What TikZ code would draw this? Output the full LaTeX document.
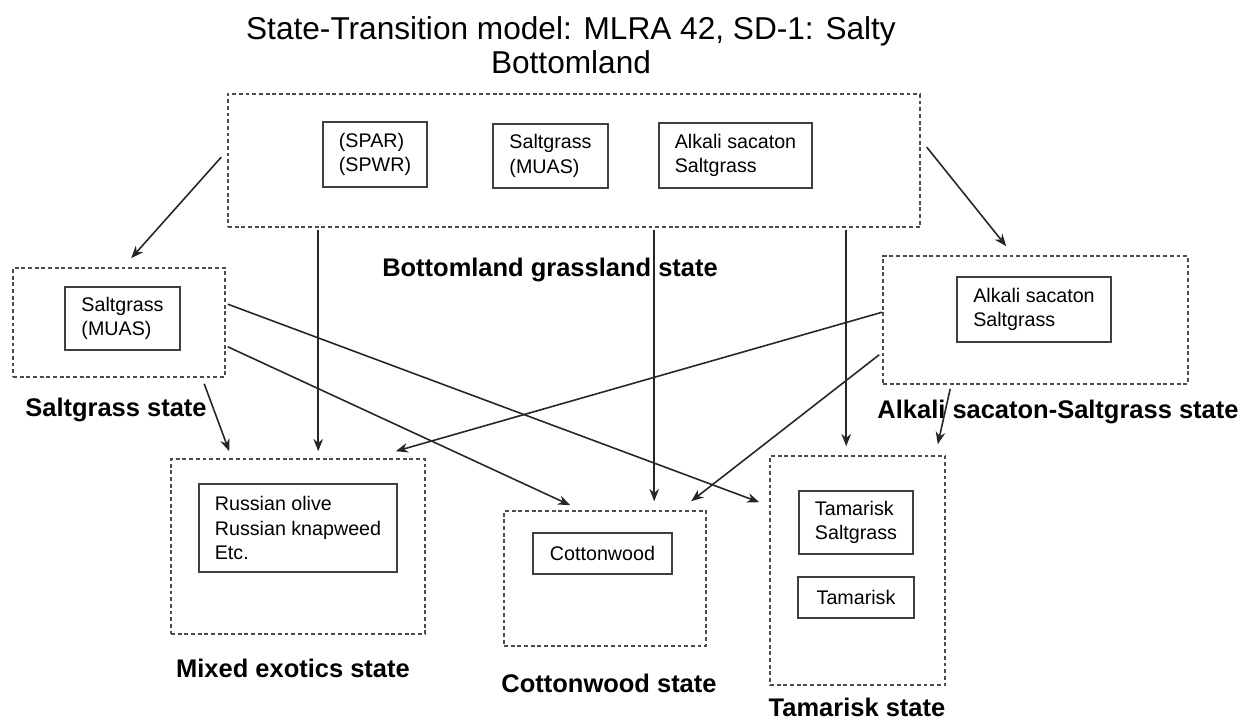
\documentclass[tikz,border=0pt]{standalone}
\usepackage{fontspec}
\setmainfont{Liberation Sans}
\usetikzlibrary{arrows.meta,fit,calc}
\tikzset{
 outerbox/.style={draw=black!70, line width=0.9pt, dash pattern=on 2.2pt off 1.6pt, inner sep=0pt},
 innerbox/.style={draw=black!75, line width=1pt, align=left, font=\fontsize{11.2}{14}\selectfont, inner sep=2pt},
 statelabel/.style={font=\bfseries\fontsize{14.5}{17}\selectfont, inner sep=0pt},
 arr/.style={draw=black!85, line width=0.9pt, -{Stealth[length=7pt,width=5.5pt]}},
}
\begin{document}
\begin{tikzpicture}[x=0.02cm,y=-0.02cm]
\useasboundingbox (0,0) rectangle (1251,722);
% title
\node[align=center, font=\fontsize{18}{19.5}\selectfont] (title) at (571,45) {State-Transition model: MLRA 42, SD-1: Salty\\Bottomland};
% outer state boxes
\node[outerbox, fit={(228,94) (920,227)}] (top) {};
\node[outerbox, fit={(13,268) (225,377)}] (sg) {};
\node[outerbox, fit={(883,256) (1188,384)}] (as) {};
\node[outerbox, fit={(171,459) (425,634)}] (mx) {};
\node[outerbox, fit={(504,511) (706,646)}] (cw) {};
\node[outerbox, fit={(770,456) (945,685)}] (tm) {};
% inner boxes
\node[innerbox, minimum width=2.08cm, minimum height=1.30cm] (t1) at (375,154.5) {(SPAR)\\(SPWR)};
\node[innerbox, minimum width=2.30cm, minimum height=1.28cm] (t2) at (550.5,156) {Saltgrass\\(MUAS)};
\node[innerbox, minimum width=3.06cm, minimum height=1.30cm] (t3) at (735.5,155.5) {Alkali sacaton\\Saltgrass};
\node[innerbox, minimum width=2.30cm, minimum height=1.26cm] (sgi) at (122.5,318.5) {Saltgrass\\(MUAS)};
\node[innerbox, minimum width=3.08cm, minimum height=1.30cm] (asi) at (1034,309.5) {Alkali sacaton\\Saltgrass};
\node[innerbox, minimum width=3.96cm, minimum height=1.76cm] (mxi) at (298,528) {Russian olive\\Russian knapweed\\Etc.};
\node[innerbox, minimum width=2.78cm, minimum height=0.82cm] (cwi) at (602.5,553.5) {Cottonwood};
\node[innerbox, minimum width=2.28cm, minimum height=1.26cm] (tm1) at (856,522.5) {Tamarisk\\Saltgrass};
\node[innerbox, minimum width=2.32cm, minimum height=0.82cm] (tm2) at (856,597.5) {Tamarisk};
% state labels
\node[statelabel] (lbtop) at (550,270) {Bottomland grassland state};
\node[statelabel] (lbsg) at (116,410) {Saltgrass state};
\node[statelabel] (lbas) at (1058,412) {Alkali sacaton-Saltgrass state};
\node[statelabel] (lbmx) at (293,668) {Mixed exotics state};
\node[statelabel] (lbcw) at (609,683) {Cottonwood state};
\node[statelabel] (lbtm) at (857,707) {Tamarisk state};
% transitions
\draw[arr] ($(top.north west)+(-6,64)$) -- ($(sg.north west)+(119,-9)$);
\draw[arr] ($(top.north east)+(6,54)$) -- ($(as.north west)+(124,-9)$);
\draw[arr] ($(top.south west)+(91,2)$) -- ($(mx.north west)+(148,-7)$);
\draw[arr] ($(top.south west)+(427,2)$) -- ($(cw.north west)+(151,-9)$);
\draw[arr] ($(top.south west)+(619,2)$) -- ($(tm.north west)+(77,-9)$);
\draw[arr] ($(sg.south west)+(192,6)$) -- ($(mx.north west)+(59,-7)$);
\draw[arr] ($(sg.north east)+(2,37)$) -- ($(tm.north west)+(-10,47)$);
\draw[arr] ($(sg.south east)+(2,-31)$) -- ($(cw.north west)+(67,-5)$);
\draw[arr] ($(as.north west)+(0,57)$) -- ($(mx.north east)+(-30,-7)$);
\draw[arr] ($(as.south west)+(-3,-30)$) -- ($(cw.north west)+(188,-9)$);
\draw[arr] ($(as.south west)+(68,4)$) -- ($(tm.north east)+(-8,-11)$);
\end{tikzpicture}
\end{document}
